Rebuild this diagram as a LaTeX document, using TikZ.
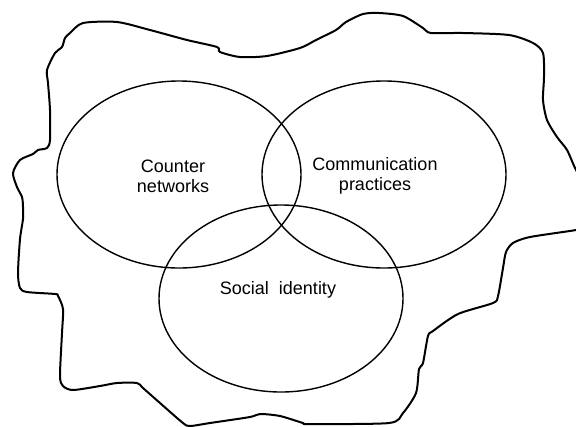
\documentclass[tikz,border=0pt]{standalone}
\usepackage{fontspec}
\setmainfont{Liberation Sans}
\usetikzlibrary{shapes.geometric}
\begin{document}
\begin{tikzpicture}[x=1bp,y=-1bp,
  region/.style={draw=black,line width=1.4bp,ellipse,inner sep=0pt,
    minimum width=244bp,minimum height=187bp},
  outline/.style={draw=black,line width=2bp,line join=round},
  label/.style={align=center,font=\fontsize{18bp}{20bp}\selectfont,inner sep=0pt}]
\useasboundingbox (0,0) rectangle (576,426);
\clip (0,0) rectangle (576,426);
% irregular boundary around the three sets
\draw[outline] plot[smooth cycle,tension=0.45] coordinates {
  (83,23) (117,22) (150,30) (187,40) (217,47) (220,52) (240,57) (267,56)
  (300,48) (316,40) (336,30) (346,22) (363,14) (379,13) (403,16) (423,28)
  (431,33) (463,33) (509,35) (533,43) (543,53) (544,77) (543,100) (547,120)
  (557,137) (567,150) (576,170) (590,195) (590,226) (576,230) (530,237)
  (513,243) (506,252) (503,268) (498,296) (493,303) (458,314) (433,331)
  (428,336) (423,363) (419,369) (416,393) (403,413) (389,423) (309,424)
  (303,423) (280,416) (260,414) (250,417) (210,423) (190,426) (183,423)
  (160,403) (143,388) (137,383) (117,383) (100,386) (73,390) (63,386)
  (60,376) (62,333) (63,309) (58,296) (55,294) (27,292) (20,288) (18,273)
  (20,239) (23,219) (23,207) (22,197) (17,187) (13,173) (20,160) (33,154)
  (38,150) (47,148) (50,140) (50,110) (48,83) (47,70) (55,53) (62,47)
  (65,38) (70,33)};
% the three overlapping sets
\node[region] (cn) at (179,174.5) {};
\node[region] (cp) at (384,174.5) {};
\node[region] (si) at (281,298.5) {};
% set labels
\node[label] (cnlabel) at (173,176) {Counter\\networks};
\node[label] (cplabel) at (375,176) {Communication\\practices};
\node[label] (silabel) at (278,290) {Social\ \ identity};
\end{tikzpicture}
\end{document}
